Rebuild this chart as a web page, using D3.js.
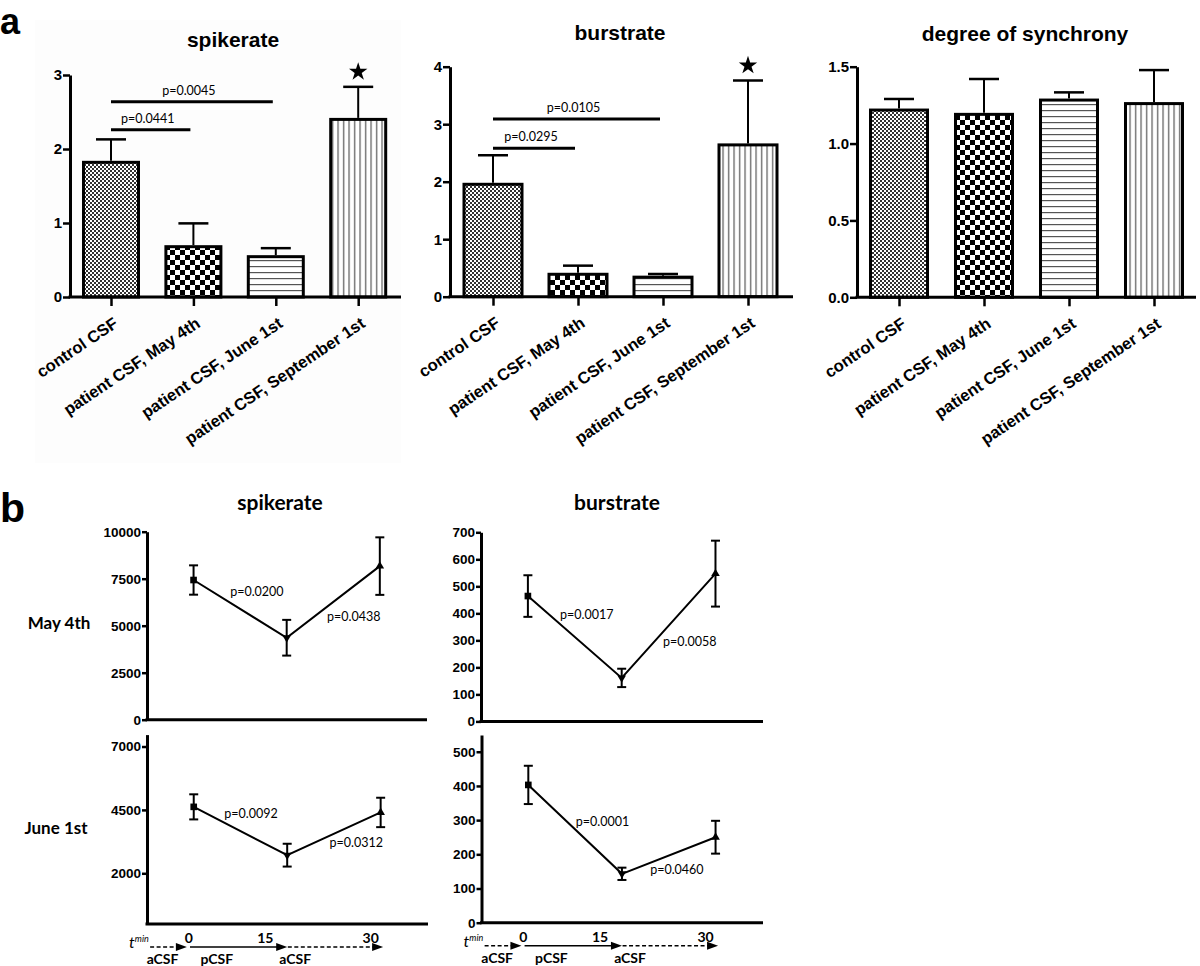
<!DOCTYPE html>
<html>
<head>
<meta charset="utf-8">
<script src="https://cdn.jsdelivr.net/npm/d3@7"></script>
<style>
  body { margin: 0; background: #fff; }
  svg { display: block; }
  text { font-family: "Liberation Sans", Arial, sans-serif; fill: #000; }
  .calib { font-family: Lato, "Open Sans", sans-serif; }
</style>
</head>
<body>
<script>
// ---- panel a: bar charts ----
const categories = ['control CSF', 'patient CSF, May 4th', 'patient CSF, June 1st', 'patient CSF, September 1st'];
const patterns = ['fine', 'check', 'hlines', 'vlines'];

const spikeMeans = [1.82, 0.68, 0.545, 2.40];
const spikeErrors = [0.31, 0.315, 0.115, 0.44];
const spikeTicks = [0, 1, 2, 3];
const spikeComparisons = [
    { from: 0, to: 1, level: 2.26, label: 'p=0.0441' },
    { from: 0, to: 2, level: 2.64, label: 'p=0.0045' }
];

const burstMeans = [1.955, 0.39, 0.34, 2.64];
const burstErrors = [0.505, 0.15, 0.055, 1.12];
const burstTicks = [0, 1, 2, 3, 4];
const burstComparisons = [
    { from: 0, to: 1, level: 2.58, label: 'p=0.0295' },
    { from: 0, to: 2, level: 3.09, label: 'p=0.0105' }
];

const syncMeans = [1.218, 1.19, 1.283, 1.26];
const syncErrors = [0.072, 0.23, 0.05, 0.218];
const syncTicks = [0, 0.5, 1.0, 1.5];

// ---- panel b: time courses ----
const minutes = [0, 15, 30];
const markerShapes = ['square', 'down', 'up'];

const maySpikeMeans = [7430, 4360, 8170];
const maySpikeSem = [780, 950, 1530];
const maySpikeTicks = [0, 2500, 5000, 7500, 10000];
const maySpikeP = [{ label: 'p=0.0200', t: 10.2, v: 6800 }, { label: 'p=0.0438', t: 25.8, v: 5480 }];

const juneSpikeMeans = [4620, 2715, 4400];
const juneSpikeSem = [495, 450, 580];
const juneSpikeTicks = [2000, 4500, 7000];
const juneSpikeP = [{ label: 'p=0.0092', t: 9.2, v: 4340 }, { label: 'p=0.0312', t: 26.1, v: 3200 }];

const mayBurstMeans = [464, 161, 547];
const mayBurstSem = [77, 34, 122];
const mayBurstTicks = [0, 100, 200, 300, 400, 500, 600, 700];
const mayBurstP = [{ label: 'p=0.0017', t: 9.4, v: 394 }, { label: 'p=0.0058', t: 25.9, v: 297 }];

const juneBurstMeans = [403, 143, 250];
const juneBurstSem = [56, 18, 48];
const juneBurstTicks = [0, 100, 200, 300, 400, 500];
const juneBurstP = [{ label: 'p=0.0001', t: 11.9, v: 297 }, { label: 'p=0.0460', t: 23.8, v: 154 }];

const timeTickValues = [-0.8, 11.5, 28.4];
const timeTickLabels = ['0', '15', '30'];
const phases = [
    { from: -7, to: -1.1, dashed: true, label: 'aCSF', at: -5 },
    { from: -0.6, to: 15, dashed: false, label: 'pCSF', at: 3.7 },
    { from: 15.1, to: 30.4, dashed: true, label: 'aCSF', at: 16.3 }
];
const timeDomain = [-7.5, 37.6];

const svg = d3.select('body').append('svg').attr('width', 1200).attr('height', 966);

function definePatterns() {
    const defs = svg.append('defs');
    const fine = defs.append('pattern').attr('id', 'fine')
        .attr('patternUnits', 'userSpaceOnUse').attr('width', 4).attr('height', 4);
    fine.append('rect').attr('width', 4).attr('height', 4).attr('fill', '#fff');
    fine.append('rect').attr('width', 2).attr('height', 2).attr('fill', '#333');
    fine.append('rect').attr('x', 2).attr('y', 2).attr('width', 2).attr('height', 2).attr('fill', '#333');

    const check = defs.append('pattern').attr('id', 'check')
        .attr('patternUnits', 'userSpaceOnUse').attr('width', 10).attr('height', 10);
    check.append('rect').attr('width', 10).attr('height', 10).attr('fill', '#fff');
    check.append('rect').attr('width', 5).attr('height', 5).attr('fill', '#000');
    check.append('rect').attr('x', 5).attr('y', 5).attr('width', 5).attr('height', 5).attr('fill', '#000');

    const hlines = defs.append('pattern').attr('id', 'hlines')
        .attr('patternUnits', 'userSpaceOnUse').attr('width', 6).attr('height', 6);
    hlines.append('rect').attr('width', 6).attr('height', 6).attr('fill', '#fff');
    hlines.append('rect').attr('y', 2).attr('width', 6).attr('height', 1.2).attr('fill', '#555');

    const vlines = defs.append('pattern').attr('id', 'vlines')
        .attr('patternUnits', 'userSpaceOnUse').attr('width', 5.5).attr('height', 6);
    vlines.append('rect').attr('width', 5.5).attr('height', 6).attr('fill', '#fff');
    vlines.append('rect').attr('x', 2).attr('width', 1.2).attr('height', 6).attr('fill', '#555');
}

function drawBarChart(layout, title, means, errors, ticks, tickFormat, comparisons, starred) {
    const g = svg.append('g');
    if (layout.background) {
        g.append('rect').attr('x', layout.background[0]).attr('y', layout.background[1])
            .attr('width', layout.background[2]).attr('height', layout.background[3]).attr('fill', '#fdfdfd');
    }
    const y = d3.scaleLinear().domain([0, ticks[ticks.length - 1]]).range([layout.y0, layout.yTop]);
    const x = d3.scalePoint().domain(categories)
        .range([layout.axisX + layout.firstOffset, layout.axisX + layout.firstOffset + 3 * layout.step]);
    const bw = layout.barWidth;

    g.append('text').attr('x', layout.titleX).attr('y', layout.titleY)
        .attr('text-anchor', 'middle').attr('font-size', 21).attr('font-weight', 'bold').text(title);

    // bars
    g.selectAll('rect.bar').data(means).join('rect').attr('class', 'bar')
        .attr('x', (d, i) => x(categories[i]) - bw / 2)
        .attr('y', d => y(d))
        .attr('width', bw)
        .attr('height', d => layout.y0 - y(d))
        .attr('fill', (d, i) => `url(#${patterns[i]})`)
        .attr('stroke', '#000').attr('stroke-width', 3);

    // error bars (upper only)
    const err = g.selectAll('g.err').data(means).join('g').attr('class', 'err');
    err.append('line')
        .attr('x1', (d, i) => x(categories[i])).attr('x2', (d, i) => x(categories[i]))
        .attr('y1', d => y(d) - 1.5).attr('y2', (d, i) => y(d + errors[i]))
        .attr('stroke', '#000').attr('stroke-width', 2);
    err.append('line')
        .attr('x1', (d, i) => x(categories[i]) - 15).attr('x2', (d, i) => x(categories[i]) + 15)
        .attr('y1', (d, i) => y(d + errors[i])).attr('y2', (d, i) => y(d + errors[i]))
        .attr('stroke', '#000').attr('stroke-width', 2.5);

    // stars
    starred.forEach(i => {
        g.append('path').attr('d', d3.symbol(d3.symbolStar, 105)())
            .attr('transform', `translate(${x(categories[i])},${y(means[i] + errors[i]) - 15})`)
            .attr('fill', '#000');
    });

    // comparison lines
    comparisons.forEach(c => {
        const x1 = x(categories[c.from]);
        const x2 = x(categories[c.to]) - 3;
        g.append('line').attr('x1', x1).attr('x2', x2).attr('y1', y(c.level)).attr('y2', y(c.level))
            .attr('stroke', '#000').attr('stroke-width', 3);
        g.append('text').attr('class', 'calib').attr('x', (x1 + x2) / 2 - 3).attr('y', y(c.level) - 7)
            .attr('text-anchor', 'middle').attr('font-size', 12.5).text(c.label);
    });

    // y axis
    const yAxis = g.append('g').attr('transform', `translate(${layout.axisX},0)`)
        .call(d3.axisLeft(y).tickValues(ticks).tickFormat(tickFormat).tickSize(7).tickSizeOuter(0).tickPadding(1));
    yAxis.select('.domain').attr('stroke-width', 3);
    yAxis.selectAll('.tick line').attr('stroke-width', 2.5);
    yAxis.selectAll('.tick text').attr('font-size', 15).attr('font-weight', 'bold')
        .attr('font-family', '"Liberation Sans", Arial, sans-serif');

    // x axis
    g.append('line').attr('x1', layout.axisX - 1.5).attr('x2', layout.axisEnd)
        .attr('y1', layout.y0).attr('y2', layout.y0).attr('stroke', '#000').attr('stroke-width', 3);
    const xAxis = g.append('g').attr('transform', `translate(0,${layout.y0})`)
        .call(d3.axisBottom(x).tickSize(9).tickFormat(''));
    xAxis.select('.domain').remove();
    xAxis.selectAll('.tick line').attr('stroke-width', 2.5);

    g.selectAll('text.cat').data(categories).join('text').attr('class', 'cat')
        .attr('transform', d => `translate(${x(d) + 8},${layout.y0 + 29}) rotate(-34)`)
        .attr('text-anchor', 'end').attr('font-size', 16.5).attr('font-weight', 'bold').text(d => d);
}

function drawTimeCourse(layout, means, sem, ticks, pLabels) {
    const g = svg.append('g');
    const x = d3.scaleLinear().domain(timeDomain).range([layout.axisX, layout.axisEnd]);
    const y = d3.scaleLinear().domain([0, layout.yMax]).range([layout.y0, layout.yTop]);
    const pts = minutes.map((t, i) => ({ t, v: means[i], s: sem[i], shape: markerShapes[i] }));

    // y axis
    const yAxis = g.append('g').attr('transform', `translate(${layout.axisX},0)`)
        .call(d3.axisLeft(y).tickValues(ticks).tickFormat(d3.format('d')).tickSize(5).tickSizeOuter(0).tickPadding(1));
    yAxis.select('.domain').attr('stroke-width', 3);
    yAxis.selectAll('.tick line').attr('stroke-width', 2.5);
    yAxis.selectAll('.tick text').attr('font-size', 13.5).attr('font-weight', 'bold')
        .attr('font-family', '"Liberation Sans", Arial, sans-serif');
    g.append('line').attr('x1', layout.axisX - 1.5).attr('x2', layout.axisEnd)
        .attr('y1', layout.y0).attr('y2', layout.y0).attr('stroke', '#000').attr('stroke-width', 3);

    // connecting line
    g.append('path').datum(pts)
        .attr('d', d3.line().x(d => x(d.t)).y(d => y(d.v)))
        .attr('fill', 'none').attr('stroke', '#000').attr('stroke-width', 2);

    // error bars
    pts.forEach(p => {
        const cx = x(p.t);
        g.append('line').attr('x1', cx).attr('x2', cx).attr('y1', y(p.v - p.s)).attr('y2', y(p.v + p.s))
            .attr('stroke', '#000').attr('stroke-width', 2);
        [p.v - p.s, p.v + p.s].forEach(v => {
            g.append('line').attr('x1', cx - 4.5).attr('x2', cx + 4.5).attr('y1', y(v)).attr('y2', y(v))
                .attr('stroke', '#000').attr('stroke-width', 2);
        });
        const sym = p.shape === 'square' ? d3.symbol(d3.symbolSquare, 44)() : d3.symbol(d3.symbolTriangle, 32)();
        const rot = p.shape === 'down' ? 180 : 0;
        g.append('path').attr('d', sym).attr('fill', '#000')
            .attr('transform', `translate(${cx},${y(p.v)}) rotate(${rot})`);
    });

    pLabels.forEach(p => {
        g.append('text').attr('class', 'calib').attr('x', x(p.t)).attr('y', y(p.v)).attr('dy', '0.35em')
            .attr('text-anchor', 'middle').attr('font-size', 12.5).text(p.label);
    });

    if (layout.timeAxis) drawTimeAxis(g, x, layout.y0);
}

function drawTimeAxis(g, x, y0) {
    const arrowY = y0 + 23;
    phases.forEach(ph => {
        const x1 = x(ph.from), x2 = x(ph.to);
        g.append('line').attr('x1', x1).attr('x2', x2 - 8).attr('y1', arrowY).attr('y2', arrowY)
            .attr('stroke', '#000').attr('stroke-width', 1.6)
            .attr('stroke-dasharray', ph.dashed ? '4,2.5' : null);
        g.append('path').attr('d', `M${x2},${arrowY}L${x2 - 11},${arrowY - 4}L${x2 - 11},${arrowY + 4}Z`)
            .attr('fill', '#000');
        g.append('text').attr('class', 'calib').attr('x', x(ph.at)).attr('y', arrowY + 17)
            .attr('text-anchor', 'middle').attr('font-size', 14).attr('font-weight', 'bold').text(ph.label);
    });
    timeTickValues.forEach((t, i) => {
        g.append('text').attr('class', 'calib').attr('x', x(t)).attr('y', arrowY - 4)
            .attr('text-anchor', 'middle').attr('font-size', 14).attr('font-weight', 'bold').text(timeTickLabels[i]);
    });
    const tx = x(phases[0].from) - 21;
    const t = g.append('text').attr('class', 'calib').attr('x', tx).attr('y', arrowY + 1)
        .attr('font-size', 16).attr('font-style', 'italic');
    t.append('tspan').text('t');
    t.append('tspan').attr('font-size', 9).attr('dy', -6).text('min');
}

definePatterns();

svg.append('text').attr('x', 0).attr('y', 34).attr('font-size', 36).attr('font-weight', 'bold').text('a');
svg.append('text').attr('x', 0).attr('y', 522).attr('font-size', 41).attr('font-weight', 'bold').text('b');

drawBarChart({ axisX: 70, firstOffset: 41, step: 82.4, barWidth: 55, y0: 297, yTop: 75, axisEnd: 401,
    titleX: 233, titleY: 47, background: [35, 20, 366, 443] },
    'spikerate', spikeMeans, spikeErrors, spikeTicks, d3.format('d'), spikeComparisons, [3]);
drawBarChart({ axisX: 450, firstOffset: 43, step: 85, barWidth: 58, y0: 296.7, yTop: 66.7, axisEnd: 793,
    titleX: 620, titleY: 39.5 },
    'burstrate', burstMeans, burstErrors, burstTicks, d3.format('d'), burstComparisons, [3]);
drawBarChart({ axisX: 857, firstOffset: 42, step: 85, barWidth: 57, y0: 297.3, yTop: 66.7, axisEnd: 1196,
    titleX: 1025, titleY: 40.5 },
    'degree of synchrony', syncMeans, syncErrors, syncTicks, d3.format('.1f'), [], []);

// panel b titles and row labels
svg.append('text').attr('class', 'calib').attr('x', 280).attr('y', 510).attr('text-anchor', 'middle')
    .attr('font-size', 21).attr('font-weight', 'bold').text('spikerate');
svg.append('text').attr('class', 'calib').attr('x', 617).attr('y', 510).attr('text-anchor', 'middle')
    .attr('font-size', 21).attr('font-weight', 'bold').text('burstrate');
svg.append('text').attr('class', 'calib').attr('x', 59).attr('y', 629).attr('text-anchor', 'middle')
    .attr('font-size', 17).attr('font-weight', 'bold').text('May 4th');
svg.append('text').attr('class', 'calib').attr('x', 56).attr('y', 834).attr('text-anchor', 'middle')
    .attr('font-size', 17).attr('font-weight', 'bold').text('June 1st');

drawTimeCourse({ axisX: 147, axisEnd: 427, y0: 719.7, yTop: 531.7, yMax: 10000 },
    maySpikeMeans, maySpikeSem, maySpikeTicks, maySpikeP);
drawTimeCourse({ axisX: 481, axisEnd: 763, y0: 721.4, yTop: 532.3, yMax: 700 },
    mayBurstMeans, mayBurstSem, mayBurstTicks, mayBurstP);
drawTimeCourse({ axisX: 147, axisEnd: 428, y0: 924, yTop: 734.6, yMax: 7470, timeAxis: true },
    juneSpikeMeans, juneSpikeSem, juneSpikeTicks, juneSpikeP);
drawTimeCourse({ axisX: 481.5, axisEnd: 763, y0: 922.7, yTop: 735, yMax: 549, timeAxis: true },
    juneBurstMeans, juneBurstSem, juneBurstTicks, juneBurstP);
</script>
</body>
</html>
